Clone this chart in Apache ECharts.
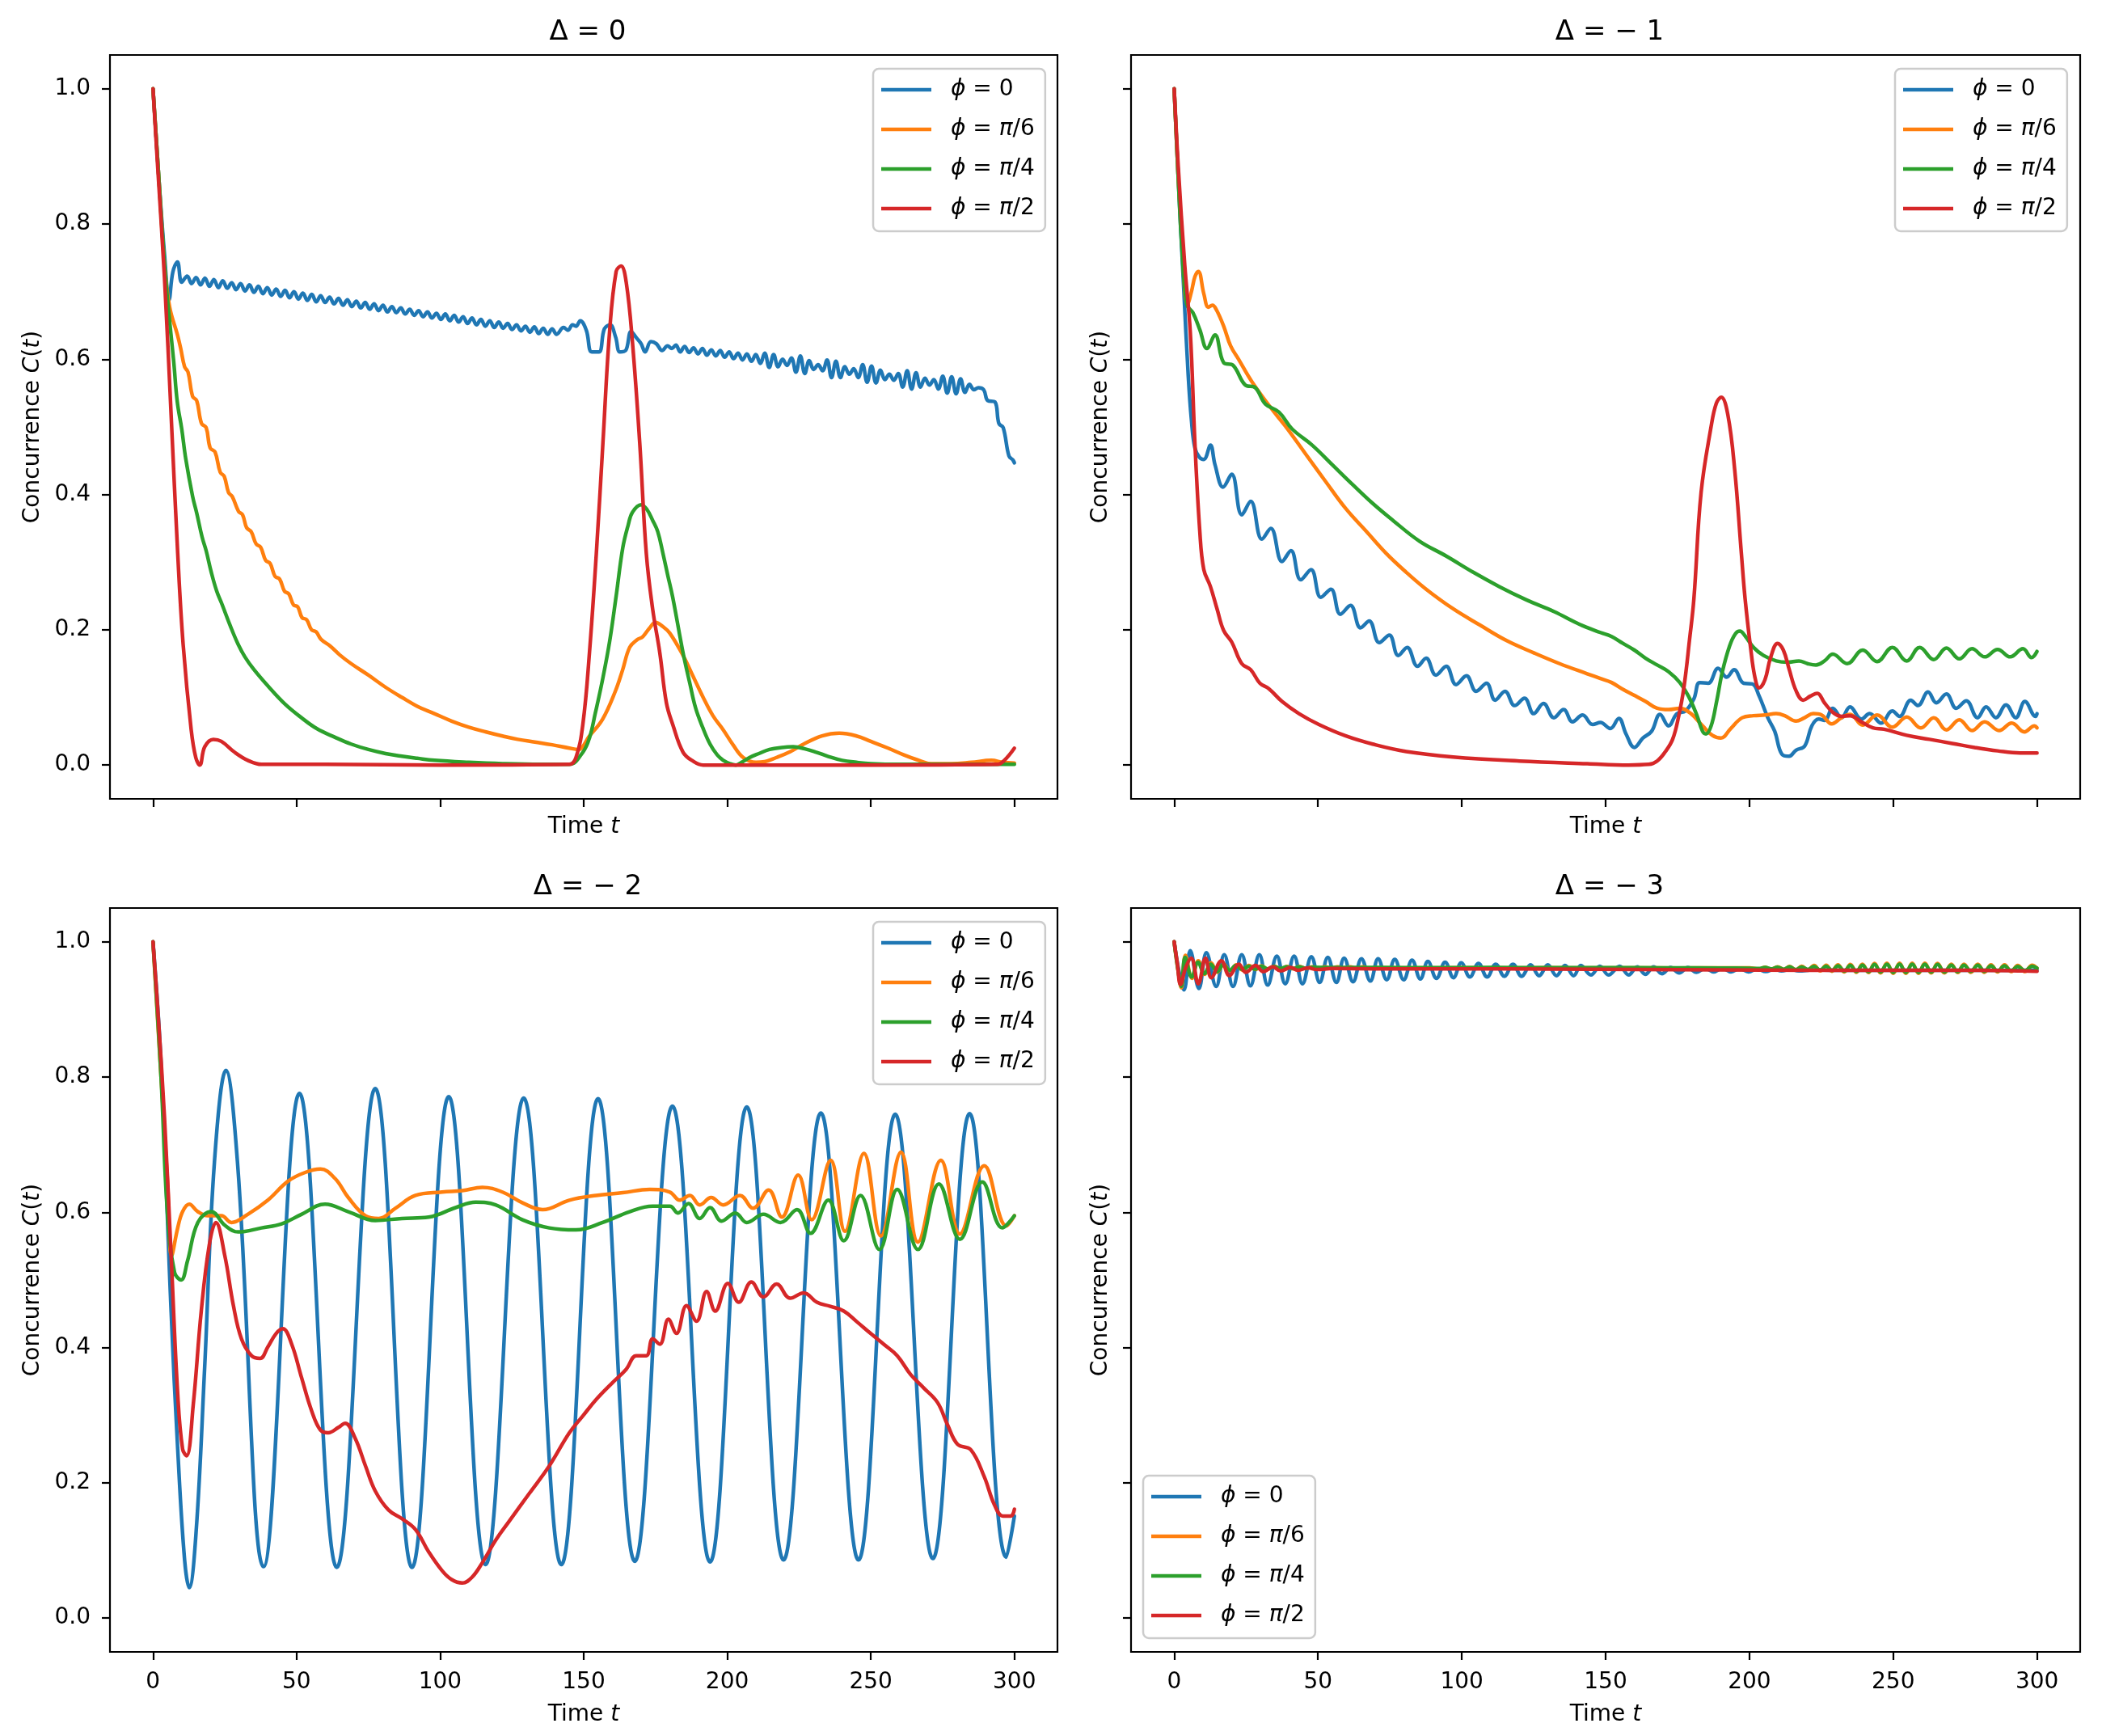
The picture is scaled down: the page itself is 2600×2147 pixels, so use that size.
<!DOCTYPE html>
<html>
<head>
<meta charset="utf-8">
<script src="https://cdn.jsdelivr.net/npm/echarts@6/dist/echarts.min.js"></script>
<style>
html,body{margin:0;padding:0;background:#fff;}
#chart{width:2600px;height:2147px;}
</style>
</head>
<body>
<div id="chart"></div>
<script>
// ---------------- data ----------------
const panelTitles = ['Δ = 0', 'Δ = − 1', 'Δ = − 2', 'Δ = − 3'];
const seriesNames = ['ϕ = 0', 'ϕ = π/6', 'ϕ = π/4', 'ϕ = π/2'];
const xTicks = [0, 50, 100, 150, 200, 250, 300];
const yTicks = [0, 0.2, 0.4, 0.6, 0.8, 1.0];

// Delta = 0
const d0Phi0 = [
[0,1.0],[2,0.87],[4,0.755],[5.6,0.688],[6.9,0.729],[8.5,0.744],[10.0,0.714],
[11.9,0.723],[13.45,0.712],[15.0,0.721],[16.55,0.710],[18.1,0.720],[19.65,0.708],[21.2,0.718],[22.75,0.706],[24.3,0.716],[25.85,0.705],[27.4,0.713],[28.95,0.703],[30.5,0.712],[32.05,0.701],[33.6,0.710],[35.15,0.699],[36.7,0.708],[38.25,0.697],[39.8,0.706],[41.35,0.695],[42.9,0.704],[44.45,0.693],[46.0,0.702],[47.55,0.691],[49.1,0.700],[50.65,0.689],[52.2,0.698],[53.75,0.687],[55.3,0.696],[56.85,0.685],[58.4,0.694],[59.95,0.684],[61.5,0.692],[63.05,0.682],[64.6,0.690],[66.15,0.680],[67.7,0.688],[69.25,0.678],[70.8,0.686],[72.35,0.676],[73.9,0.684],[75.45,0.674],[77.0,0.682],[78.55,0.672],[80.1,0.680],[81.65,0.670],[83.2,0.678],[84.75,0.669],[86.3,0.676],[87.85,0.667],[89.4,0.674],[90.95,0.665],[92.5,0.672],[94.05,0.663],[95.6,0.670],[97.15,0.661],[98.7,0.668],[100.25,0.659],[101.8,0.667],[103.35,0.657],[104.9,0.665],[106.45,0.655],[108.0,0.663],[109.55,0.653],[111.1,0.661],[112.65,0.651],[114.2,0.659],[115.75,0.649],[117.3,0.657],[118.85,0.647],[120.4,0.655],[121.95,0.646],[123.5,0.653],[125.05,0.644],[126.6,0.651],[128.15,0.642],[129.7,0.649],[131.25,0.640],[132.8,0.648],[134.35,0.638],[135.9,0.646],[137.45,0.637],[139.0,0.645],[140.55,0.637],
[143.0,0.647],[144.5,0.643],[146.1,0.651],[147.3,0.649],[148.8,0.657],[150.9,0.643],[152.8,0.611],[155.3,0.611],[157.2,0.645],[159.2,0.651],[161.1,0.633],[162.6,0.611],[164.6,0.613],[166.5,0.641],[168.5,0.631],[170,0.623],[171.4,0.611],[173.4,0.626],[175.3,0.623],[177.3,0.613],[179.2,0.620],[180.7,0.616],[182.1,0.621],[183.6,0.611],
[185.15,0.619],[186.7,0.610],[188.25,0.617],[189.8,0.608],[191.35,0.616],[192.9,0.606],[194.45,0.614],[196.0,0.605],[197.55,0.613],[199.1,0.603],[200.65,0.611],[202.2,0.601],[203.75,0.609],[205.3,0.599],[206.85,0.608],[208.4,0.597],[209.95,0.607],[211.5,0.594],[213.05,0.609],[214.6,0.588],[216.15,0.607],[217.7,0.589],[219.25,0.600],[220.8,0.591],[222.35,0.602],[223.9,0.581],[225.45,0.605],[227.0,0.579],[228.55,0.598],[230.1,0.585],[231.65,0.592],[233.2,0.583],[234.75,0.599],[236.3,0.573],[237.85,0.597],[239.4,0.573],[240.95,0.589],[242.5,0.578],[244.05,0.586],[245.6,0.573],[247.15,0.592],[248.7,0.566],[250.25,0.590],[251.8,0.565],[253.35,0.584],[254.9,0.570],[256.45,0.578],[258.0,0.569],[259.55,0.579],[261.1,0.559],[262.65,0.583],[264.2,0.556],[265.75,0.580],[267.3,0.559],[268.85,0.572],[270.4,0.562],[271.95,0.570],[273.5,0.556],[275.05,0.575],[276.6,0.550],[278.15,0.574],[279.7,0.549],[281.25,0.571],[282.8,0.551],[284.35,0.563],[285.9,0.555],[287.45,0.558],[289.3,0.555],[290.7,0.539],[293.2,0.537],[294.6,0.505],[296.1,0.499],[298.1,0.457],[299.5,0.451],[300,0.447]
];
const d0Phi6 = [
[0,1],[2,0.87],[4,0.74],[5.8,0.677],[8.45,0.637],[9.6,0.617],[11,0.589],[12.2,0.581],[13.8,0.545],[15.2,0.539],[16.9,0.505],[18.5,0.499],[19.9,0.469],[21.6,0.463],[23.4,0.433],[24.8,0.427],[26.3,0.403],[27.6,0.397],[29.8,0.375],[31.2,0.370],[32.6,0.351],[34.2,0.345],[35.9,0.327],[37.5,0.322],[39.2,0.303],[40.8,0.298],[42.5,0.279],[44.1,0.275],[45.8,0.257],[47.3,0.253],[48.9,0.237],[50.4,0.234],[51.9,0.218],[53.5,0.215],[55.2,0.200],[56.8,0.197],[58.5,0.186],[61.7,0.176],[65,0.163],[69,0.150],[75,0.133],[81,0.115],[86.7,0.100],[92,0.087],[98,0.076],[104,0.065],[110,0.056],[116,0.049],[121.7,0.043],[127,0.038],[133,0.034],[139,0.030],[145,0.025],[148,0.023],[152,0.043],[156.6,0.068],[161,0.109],[163.5,0.14],[166,0.174],[168.5,0.185],[170.6,0.19],[173,0.203],[175,0.211],[177.5,0.205],[180,0.195],[184.6,0.162],[188,0.132],[191.6,0.1],[195,0.073],[198.6,0.052],[202,0.03],[205.6,0.011],[210,0.004],[213,0.005],[217,0.011],[222,0.02],[226.6,0.031],[233,0.043],[239,0.047],[245,0.043],[250,0.035],[256,0.025],[261.5,0.015],[266,0.008],[271,0.002],[278,0.002],[285,0.004],[292,0.007],[296,0.004],[300,0.003]
];
const d0Phi4 = [
[0,1],[2,0.87],[4,0.74],[5.3,0.677],[7.2,0.597],[8.45,0.537],[10,0.497],[11.4,0.453],[13.8,0.397],[15.2,0.373],[17.1,0.337],[18.5,0.317],[20.3,0.285],[22.2,0.257],[24.1,0.237],[26.9,0.206],[29.7,0.178],[32,0.160],[35,0.142],[40,0.117],[46,0.090],[51.7,0.070],[57,0.054],[63.4,0.041],[69,0.031],[75,0.023],[81,0.017],[86.7,0.013],[92,0.01],[98,0.007],[110,0.004],[121.7,0.002],[135,0.001],[145,0.001],[149.7,0.019],[152,0.04],[154,0.076],[156.5,0.125],[159,0.182],[161.3,0.25],[163.6,0.321],[165.5,0.355],[167,0.374],[170,0.385],[172,0.378],[174,0.362],[175.8,0.345],[177.6,0.313],[179.3,0.28],[181,0.248],[184.6,0.166],[187,0.12],[189,0.084],[191.5,0.055],[194,0.031],[196.5,0.015],[198.6,0.007],[201,0.002],[203,0.0],[205,0.004],[207.7,0.011],[211,0.017],[214.7,0.023],[219,0.026],[223,0.027],[227,0.024],[231,0.019],[235,0.013],[240,0.007],[245,0.004],[250,0.002],[260,0.001],[300,0.001]
];
const d0Phi2 = [
[0,1],[1.6,0.886],[4,0.72],[6.3,0.518],[8.6,0.313],[10.5,0.178],[13.3,0.052],[14.9,0.011],[16.3,0.0],[18,0.027],[21,0.038],[23.8,0.035],[28.4,0.019],[33,0.007],[37.8,0.001],[60,0.001],[100,0.0],[145,0.001],[147.3,0.011],[149.7,0.06],[152,0.166],[154.4,0.313],[156.7,0.477],[159,0.64],[161.3,0.73],[163,0.738],[164.8,0.714],[167,0.624],[169.5,0.477],[171.8,0.313],[174,0.231],[176.5,0.166],[178.8,0.092],[181,0.06],[184.6,0.019],[188,0.006],[191.6,0.0],[250,0.0],[294,0.001],[296.5,0.007],[300,0.025]
];

// Delta = -1
const d1Phi0 = [
[0,1],[1.4,0.869],[3.3,0.706],[4.9,0.575],[6,0.51],[7.2,0.469],[8.8,0.455],[10.3,0.452],[12.6,0.473],[14.2,0.444],[17,0.411],[20,0.43],[23.5,0.37],[26.6,0.39],[30.5,0.334],[33.6,0.35],[37.5,0.301],[40.6,0.317],[44,0.274],[47.6,0.289],[51,0.248],[54.5,0.26],[57.8,0.223],[61.3,0.236],[64.8,0.203],[67.8,0.213],[71.3,0.181],[74.8,0.192],[77.9,0.162],[81,0.174],[84.6,0.146],[87.6,0.158],[91,0.133],[94.6,0.146],[98,0.119],[101.6,0.132],[105,0.109],[108.6,0.121],[111.6,0.096],[115,0.109],[118.4,0.088],[121.8,0.099],[125,0.076],[128.4,0.091],[132,0.07],[135.4,0.082],[138.5,0.064],[142,0.074],[145.5,0.06],[148.2,0.063],[151.6,0.054],[154.6,0.069],[157.1,0.046],[160,0.026],[163,0.04],[166,0.05],[168.9,0.075],[171.9,0.058],[174.8,0.076],[177.8,0.08],[180.7,0.098],[182.7,0.122],[185.7,0.121],[189.1,0.143],[192.1,0.13],[194.7,0.141],[198,0.121],[201,0.12],[203.4,0.102],[206.4,0.07],[208.8,0.05],[211.3,0.016],[213.8,0.013],[216.2,0.022],[219.2,0.028],[221.7,0.058],[224.1,0.068],[226.1,0.066],[229,0.084],[232,0.07],[235,0.086],[238.9,0.068],[241.8,0.076],[245.8,0.062],[249.7,0.08],[252.2,0.072],[256.1,0.096],[258.6,0.088],[262.1,0.108],[265,0.092],[268.5,0.105],[271.9,0.084],[275.4,0.095],[279.3,0.07],[282.3,0.086],[285.7,0.07],[289.2,0.089],[292.6,0.07],[295.8,0.094],[299.5,0.072],[300,0.076]
];
const d1Phi6 = [
[0,1],[1.4,0.87],[2.6,0.787],[3.7,0.70],[4.6,0.682],[6,0.70],[7.2,0.722],[8.4,0.73],[10.3,0.697],[11.9,0.677],[13.3,0.68],[14.7,0.673],[17.2,0.649],[19.6,0.62],[22.4,0.6],[27,0.567],[34,0.526],[38.7,0.501],[45.7,0.46],[52.7,0.419],[59.7,0.379],[66.7,0.346],[73.7,0.313],[80.7,0.285],[87.6,0.26],[97,0.231],[106.3,0.207],[115.6,0.184],[125,0.166],[134,0.15],[143.6,0.135],[148.2,0.128],[152.1,0.122],[156,0.112],[160,0.103],[163.9,0.094],[167.9,0.084],[171.9,0.082],[175.8,0.084],[179.7,0.076],[183.7,0.058],[187.1,0.044],[190.1,0.04],[193.5,0.054],[197.5,0.07],[201.4,0.073],[205.4,0.074],[209.3,0.076],[212.3,0.073],[216.2,0.065],[219.2,0.07],[222.2,0.076],[225.1,0.074],[228.6,0.061],[232,0.07],[235,0.075],[239.4,0.059],[244.4,0.074],[249.7,0.056],[254.7,0.071],[259.6,0.055],[264.1,0.07],[268.5,0.052],[273,0.067],[277.4,0.051],[281.8,0.064],[286.8,0.051],[291.2,0.062],[295.6,0.049],[299.1,0.058],[300,0.055]
];
const d1Phi4 = [
[0,1],[1.4,0.87],[2.6,0.77],[4.4,0.681],[6.5,0.669],[8.9,0.644],[11.4,0.616],[14.2,0.636],[17.2,0.595],[20.5,0.591],[24.7,0.562],[28.2,0.558],[31.7,0.534],[36.4,0.522],[41,0.497],[48,0.473],[55,0.444],[62,0.415],[69,0.387],[76,0.362],[85.3,0.331],[94.6,0.309],[104,0.285],[113,0.264],[122.6,0.244],[132,0.227],[141,0.208],[148.2,0.196],[152.1,0.19],[156,0.18],[160,0.17],[163.9,0.158],[167.9,0.148],[171.9,0.138],[175.8,0.122],[178.8,0.102],[181.7,0.074],[183.7,0.05],[184.9,0.046],[186.7,0.058],[188.6,0.094],[190.6,0.138],[193.1,0.176],[195.1,0.194],[196.7,0.198],[198.5,0.191],[201.4,0.174],[204.9,0.162],[209.3,0.154],[213.2,0.152],[217.2,0.154],[220.2,0.15],[223.1,0.148],[226.1,0.154],[229,0.164],[234,0.15],[239.4,0.17],[244.4,0.153],[249.7,0.174],[254.7,0.154],[259.2,0.174],[264.1,0.156],[268.5,0.173],[273,0.157],[277.4,0.172],[281.8,0.16],[286.3,0.171],[290.7,0.16],[295.1,0.172],[298.1,0.159],[300,0.168]
];
const d1Phi2 = [
[0,1],[1.4,0.886],[3.7,0.738],[5.6,0.64],[7.2,0.477],[8.9,0.346],[10.3,0.289],[12.6,0.264],[14.9,0.231],[17.2,0.199],[20,0.182],[23.5,0.15],[26.6,0.141],[29.8,0.121],[32.9,0.113],[37.5,0.094],[43.4,0.076],[50.3,0.06],[59.7,0.043],[69,0.031],[80.7,0.02],[97,0.012],[120,0.006],[143.6,0.002],[158,0.0],[165,0.001],[167.9,0.006],[170.8,0.02],[173.3,0.038],[175.3,0.07],[177.2,0.114],[179.2,0.186],[180.7,0.246],[183.2,0.403],[186.7,0.501],[188.5,0.535],[190.2,0.544],[192.5,0.518],[194.9,0.436],[197.2,0.313],[198.5,0.246],[200.4,0.174],[201.9,0.13],[203.4,0.114],[205.4,0.126],[207.3,0.158],[209.8,0.18],[211.8,0.17],[213.8,0.142],[216.2,0.11],[218.7,0.096],[221.2,0.102],[223.6,0.106],[226.1,0.092],[229,0.078],[232,0.072],[235,0.073],[238.9,0.064],[242.9,0.055],[246.8,0.053],[254.7,0.044],[262.6,0.038],[270.5,0.032],[278.3,0.026],[286.3,0.021],[294.1,0.018],[300,0.018]
];

// Delta = -2
const d2Phi0 = [
[0,1],[2.8,0.82],[6.3,0.454],[8.6,0.25],[11,0.086],[12.6,0.045],[15,0.127],[18,0.372],[21.4,0.675],[25.4,0.81],[29.4,0.675],[38.5,0.076],[51,0.776],[64,0.075],[77.4,0.783],[90.2,0.075],[103,0.771],[115.8,0.079],[129.1,0.769],[142.2,0.079],[155,0.768],[167.8,0.084],[180.9,0.757],[194,0.083],[206.8,0.756],[219.6,0.086],[232.6,0.747],[245.7,0.086],[258.5,0.745],[271.6,0.088],[284.4,0.746],[297.2,0.09],[300,0.151]
];
const d2Phi6 = [
[0,1],[2.8,0.8],[5,0.65],[6.5,0.536],[8.6,0.577],[10.3,0.601],[12.6,0.612],[15.6,0.601],[19,0.595],[23.8,0.595],[27.3,0.585],[33,0.597],[40,0.618],[47,0.646],[53,0.659],[58.3,0.664],[63.4,0.65],[68,0.622],[74,0.595],[78.6,0.591],[84.4,0.606],[91.4,0.625],[100.7,0.63],[107.7,0.632],[114.7,0.637],[121.7,0.63],[128.7,0.614],[135.7,0.604],[145,0.618],[154.3,0.625],[163.6,0.629],[173,0.634],[180,0.63],[183.4,0.618],[187,0.625],[190.4,0.611],[194.4,0.622],[198.6,0.611],[204.4,0.625],[209,0.606],[214.4,0.633],[219,0.593],[224.7,0.655],[229.4,0.589],[236,0.677],[241,0.572],[247.6,0.687],[253.5,0.565],[260.5,0.689],[266.4,0.556],[274.4,0.677],[281,0.568],[289.5,0.669],[297.2,0.58],[300,0.595]
];
const d2Phi4 = [
[0,1],[2.8,0.8],[5,0.6],[7.5,0.511],[9.8,0.5],[12,0.528],[15.6,0.585],[20.3,0.601],[25,0.581],[29.6,0.571],[37.8,0.577],[44.8,0.583],[51.7,0.597],[59.9,0.612],[68,0.601],[77.4,0.588],[86.7,0.591],[96,0.593],[105.4,0.607],[112.4,0.615],[119.3,0.611],[128.7,0.589],[138,0.577],[147.3,0.574],[156.6,0.585],[166,0.601],[174,0.609],[180,0.609],[182.8,0.599],[186.5,0.613],[190.4,0.591],[194,0.607],[198,0.587],[202.8,0.599],[206.8,0.585],[212.6,0.597],[218.5,0.585],[224.3,0.604],[229,0.569],[235.2,0.618],[240.6,0.558],[246.4,0.625],[253,0.545],[259.2,0.634],[266.4,0.545],[273.7,0.642],[281,0.56],[288.8,0.645],[295.8,0.577],[300,0.595]
];
const d2Phi2 = [
[0,1],[1.6,0.904],[4,0.74],[6.3,0.536],[8.6,0.331],[10.3,0.25],[11.7,0.24],[14,0.315],[16.8,0.454],[19.6,0.552],[21.9,0.585],[25,0.536],[28,0.462],[30.8,0.413],[34.3,0.388],[37.3,0.384],[40,0.401],[42.9,0.421],[45.2,0.428],[48.3,0.405],[51.7,0.356],[55.2,0.307],[58.3,0.278],[61,0.274],[64.6,0.282],[66.9,0.288],[70.4,0.266],[74,0.225],[77.4,0.188],[82,0.16],[86.7,0.147],[91.4,0.131],[96,0.098],[100.7,0.07],[104,0.057],[107.7,0.052],[111,0.06],[114.7,0.082],[119.3,0.115],[124,0.143],[131,0.184],[138,0.225],[145,0.274],[149.7,0.299],[154.3,0.323],[160,0.348],[164.8,0.368],[168.3,0.388],[171.8,0.388],[174,0.413],[176.5,0.405],[179.5,0.442],[182.3,0.421],[185.8,0.462],[189.3,0.439],[192.8,0.483],[195.8,0.454],[200.2,0.495],[204,0.467],[208.4,0.497],[212.6,0.475],[217.2,0.494],[221.9,0.473],[226.6,0.481],[231.2,0.467],[235.9,0.461],[240.6,0.454],[245.2,0.438],[249.9,0.421],[254.5,0.405],[259.2,0.388],[263.9,0.36],[268.5,0.34],[273.2,0.319],[276.7,0.286],[280.2,0.257],[284.8,0.249],[289.5,0.209],[293,0.168],[296,0.151],[298.8,0.151],[300,0.161]
];

// Delta = -3
const d3Phi0 = [
[0,1],[1.6,0.958],[3.4,0.929],[5.6,0.987],[8.6,0.931],[11.2,0.984],[14.6,0.934],[17.4,0.981],[20.45,0.934],[23.5,0.981],[26.5,0.935],[29.6,0.981],[32.5,0.936],[35.7,0.979],[38.6,0.938],[41.7,0.979],[44.6,0.938],[47.7,0.978],[50.6,0.940],[53.4,0.977],[56.4,0.940],[59.1,0.976],[62.2,0.941],[65.1,0.975],[68.2,0.942],[70.9,0.975],[73.9,0.944],[76.7,0.974],[79.8,0.944],[82.7,0.973],[85.6,0.945],[88.2,0.971],[91.2,0.946],[94.2,0.970],[97.1,0.947],[99.8,0.969],[102.8,0.948],[105.8,0.968],[108.8,0.948],[111.8,0.967],[114.8,0.949],[117.8,0.967],[120.8,0.949],[123.9,0.966],[126.9,0.950],[129.9,0.966],[132.9,0.950],[135.9,0.965],[138.9,0.950],[141.4,0.965],[144.9,0.951],[148,0.964],[151,0.951],[154.9,0.964],[158,0.951],[161,0.963],[163.8,0.952],[166.7,0.963],[169.6,0.953],[172.6,0.962],[175.6,0.954],[178.6,0.962],[181.6,0.955],[184.6,0.961],[187.6,0.9555],[190.6,0.961],[193.6,0.9555],[196.6,0.9605],[199.7,0.9555],[202.7,0.960],[205.7,0.956],[208.5,0.9595],[211.2,0.957],[214.2,0.959],[217.2,0.957],[222,0.9585],[230,0.958],[245,0.958],[260,0.958],[280,0.958],[300,0.958]
];
const d3Phi6 = [
[0,1],[1.2,0.962],[2.5,0.932],[3.9,0.98],[6.2,0.946],[8.4,0.972],[10.6,0.952],[12.8,0.969],[15,0.955],[17.2,0.967],[19.4,0.957],[21.6,0.966],[23.8,0.958],[26,0.965],[28.2,0.959],[30.4,0.9645],[32.6,0.9595],[34.8,0.964],[37,0.960],[39.2,0.9635],[41.4,0.960],[43.6,0.9635],[45.8,0.9605],[48,0.963],[50.2,0.9605],[52.4,0.963],[54.6,0.9605],[56.8,0.963],[59,0.9605],[61.2,0.963],[63.4,0.9605],[65.6,0.963],[67.8,0.9605],[70,0.9618],[85,0.9615],[100,0.9618],[115,0.9615],[130,0.9617],[145,0.9614],[160,0.9616],[175,0.9613],[190,0.9615],[200,0.9615],
[203.3,0.960],[205.5,0.9625],[207.6,0.9595],[209.8,0.963],[212,0.959],[214,0.9635],[216.1,0.9585],[218.2,0.964],[220.3,0.958],[222.5,0.965],[224.6,0.957],[226.7,0.9655],[228.7,0.9565],[230.8,0.966],[233,0.9555],[235.1,0.9665],[237.2,0.955],[239.3,0.967],[241.4,0.9545],[243.5,0.968],[245.6,0.954],[247.8,0.9685],[250,0.9535],[252.2,0.9685],[254.4,0.9535],[256.6,0.9685],[258.8,0.9535],[261,0.9685],[263.2,0.954],[265.4,0.968],[267.8,0.954],[270.2,0.967],[272.4,0.9545],[274.6,0.967],[277,0.955],[279.4,0.967],[281.7,0.955],[284,0.966],[286.3,0.9555],[288.7,0.966],[291,0.956],[293.3,0.965],[295.8,0.956],[298.3,0.9655],[300,0.961]
];
const d3Phi4 = [
[0,1],[1.2,0.962],[2.5,0.934],[3.8,0.977],[6.1,0.948],[8.3,0.97],[10.5,0.953],[12.7,0.967],[14.9,0.956],[17.1,0.966],[19.3,0.958],[21.5,0.965],[23.7,0.959],[25.9,0.964],[28.1,0.9595],[30.3,0.964],[32.5,0.960],[34.7,0.9635],[36.9,0.9605],[39.1,0.963],[41.3,0.9605],[43.5,0.963],[45.7,0.961],[48,0.9625],[55,0.962],[70,0.962],[90,0.9618],[110,0.962],[130,0.9617],[150,0.9619],[170,0.9616],[190,0.9612],[200,0.961],
[203.3,0.9605],[205.5,0.962],[207.6,0.960],[209.8,0.9625],[212,0.9595],[214,0.963],[216.1,0.959],[218.2,0.9628],[220.3,0.9592],[222.5,0.9635],[224.6,0.9582],[226.7,0.964],[228.7,0.9577],[230.8,0.9645],[233,0.9567],[235.1,0.965],[237.2,0.9562],[239.3,0.9655],[241.4,0.9557],[243.5,0.9665],[245.6,0.9552],[247.8,0.967],[250,0.9547],[252.2,0.967],[254.4,0.9547],[256.6,0.967],[258.8,0.9547],[261,0.967],[263.2,0.9552],[265.4,0.9665],[267.8,0.9552],[270.2,0.9655],[272.4,0.9557],[274.6,0.9655],[277,0.9562],[279.4,0.9655],[281.7,0.9562],[284,0.9645],[286.3,0.9567],[288.7,0.9645],[291,0.9572],[293.3,0.9635],[295.8,0.9572],[298.3,0.964],[300,0.961]
];
const d3Phi2 = [
[0,1],[1.1,0.968],[2.2,0.937],[4,0.962],[5.9,0.976],[8.4,0.938],[10.9,0.976],[12.9,0.947],[16.4,0.972],[19.2,0.95],[22.5,0.967],[24.9,0.955],[28.3,0.965],[31,0.956],[34.3,0.963],[37,0.957],[40.5,0.962],[43,0.958],[46.6,0.9615],[49.6,0.959],[55,0.9605],[70,0.960],[100,0.960],[130,0.9598],[160,0.959],[190,0.9585],[220,0.958],[250,0.958],[280,0.9578],[295,0.957],[300,0.9565]
];

const panelData = [
  [d0Phi0, d0Phi6, d0Phi4, d0Phi2],
  [d1Phi0, d1Phi6, d1Phi4, d1Phi2],
  [d2Phi0, d2Phi6, d2Phi4, d2Phi2],
  [d3Phi0, d3Phi6, d3Phi4, d3Phi2]
];

// ---------------- layout / style ----------------
const FONT = 'DejaVu Sans';
const colors = ['#1f77b4', '#ff7f0e', '#2ca02c', '#d62728'];
const grids = [
  {left: 136, top: 68, width: 1172, height: 920},
  {left: 1399, top: 68, width: 1174, height: 920},
  {left: 136, top: 1123, width: 1172, height: 920},
  {left: 1399, top: 1123, width: 1174, height: 920}
];
const legendPos = [
  {left: 1080, top: 85},
  {left: 2344, top: 85},
  {left: 1080, top: 1140},
  {left: 1414, top: 1825}
];
const italicRich = { i: { fontStyle: 'italic', fontFamily: FONT, fontSize: 28, color: '#000' } };

const option = {
  animation: false,
  backgroundColor: '#fff',
  title: grids.map((g, i) => ({
    text: panelTitles[i],
    left: g.left + g.width / 2,
    top: i < 2 ? 18 : 1075,
    textAlign: 'center',
    textStyle: { fontFamily: FONT, fontSize: 34, fontWeight: 'normal', color: '#000' }
  })),
  grid: grids.map(g => Object.assign({
    show: true, borderColor: '#000', borderWidth: 2.2, backgroundColor: 'transparent',
    containLabel: false, outerBoundsMode: 'none'
  }, g)),
  legend: legendPos.map(p => Object.assign({
    orient: 'vertical',
    data: seriesNames,
    selectedMode: false,
    icon: 'rect',
    itemWidth: 62,
    itemHeight: 4.5,
    itemGap: 21,
    padding: [12, 13, 14, 10],
    backgroundColor: 'rgba(255,255,255,0.8)',
    borderColor: '#cccccc',
    borderWidth: 2.5,
    borderRadius: 7,
    formatter: name => '{g|}' + name.replace(/([ϕπ])/g, '{i|$1}'),
    textStyle: {
      fontFamily: FONT, fontSize: 28, color: '#000', lineHeight: 28,
      rich: { g: { width: 19 }, i: { fontStyle: 'italic', fontFamily: FONT, fontSize: 28, color: '#000', lineHeight: 28 } }
    }
  }, p)),
  xAxis: grids.map((g, i) => ({
    type: 'value', gridIndex: i, min: -15, max: 315, position: 'bottom',
    axisLine: { show: false, onZero: false },
    splitLine: { show: false },
    axisTick: { show: true, inside: false, length: 10, lineStyle: { color: '#000', width: 2.2 }, customValues: xTicks },
    axisLabel: { show: i >= 2, customValues: xTicks, fontFamily: FONT, fontSize: 28, color: '#000', margin: 24,
                 formatter: v => String(v) },
    name: 'Time {i|t}',
    nameLocation: 'middle',
    nameGap: i >= 2 ? 64 : 21,
    nameTextStyle: { fontFamily: FONT, fontSize: 28, color: '#000', rich: italicRich }
  })),
  yAxis: grids.map((g, i) => ({
    type: 'value', gridIndex: i, min: -0.05, max: 1.05, position: 'left',
    axisLine: { show: false, onZero: false },
    splitLine: { show: false },
    axisTick: { show: true, inside: false, length: 10, lineStyle: { color: '#000', width: 2.2 }, customValues: yTicks },
    axisLabel: { show: i % 2 === 0, customValues: yTicks, fontFamily: FONT, fontSize: 28, color: '#000', margin: 24,
                 formatter: v => Number(v).toFixed(1) },
    name: 'Concurrence {i|C}({i|t})',
    nameLocation: 'middle',
    nameGap: i % 2 === 0 ? 81 : 23,
    nameTextStyle: { fontFamily: FONT, fontSize: 28, color: '#000', rich: italicRich }
  })),
  series: []
};

panelData.forEach((list, p) => {
  list.forEach((data, k) => {
    option.series.push({
      type: 'line',
      name: seriesNames[k],
      xAxisIndex: p,
      yAxisIndex: p,
      data: data,
      color: colors[k],
      showSymbol: false,
      symbol: 'none',
      smooth: 0.4,
      lineStyle: { width: 4.5, color: colors[k], cap: 'round', join: 'round' },
      emphasis: { disabled: true },
      z: 2 + k
    });
  });
});

const chart = echarts.init(document.getElementById('chart'), null, { renderer: 'canvas' });
chart.setOption(option);
</script>
</body>
</html>
